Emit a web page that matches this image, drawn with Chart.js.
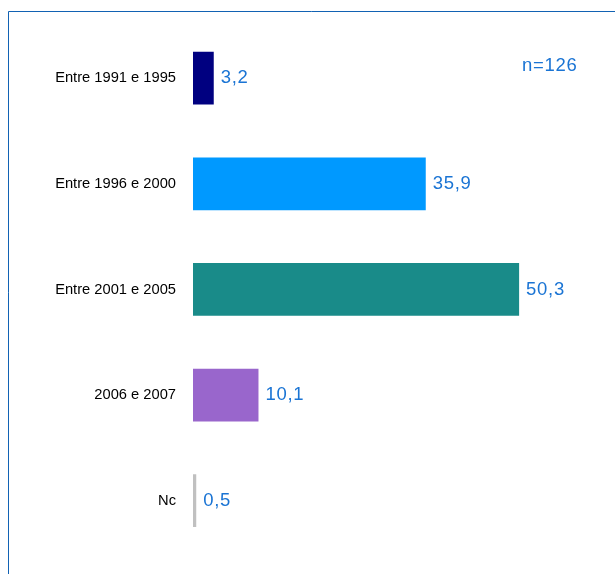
<!DOCTYPE html>
<html>
<head>
<meta charset="utf-8">
<script src="https://cdn.jsdelivr.net/npm/chart.js@4/dist/chart.umd.min.js"></script>
<style>
  html, body { margin: 0; padding: 0; background: #fff; overflow: hidden; }
  canvas { display: block; }
</style>
</head>
<body>
<canvas id="chart" width="615" height="574"></canvas>
<script>
// categories and values (percent)
const categories = ["Entre 1991 e 1995", "Entre 1996 e 2000", "Entre 2001 e 2005", "2006 e 2007", "Nc"];
const values = [3.2, 35.9, 50.3, 10.1, 0.5];
const barColors = ["#000080", "#0099ff", "#198b89", "#9966cc", "#c0c0c0"];
const sampleNote = "n=126";

// frame lines (left / top) like the source export
const framePlugin = {
  id: "frame",
  beforeDraw(chart) {
    const { ctx } = chart;
    ctx.save();
    ctx.strokeStyle = "#1262b3";
    ctx.lineWidth = 1;
    ctx.beginPath();
    ctx.moveTo(8.5, chart.height);
    ctx.lineTo(8.5, 11.5);
    ctx.lineTo(chart.width, 11.5);
    ctx.stroke();
    ctx.restore();
  },
};

// value labels at end of each bar + n note
const valueLabels = {
  id: "valueLabels",
  afterDatasetsDraw(chart) {
    const { ctx, chartArea } = chart;
    const meta = chart.getDatasetMeta(0);
    ctx.save();
    ctx.font = "18.5px 'Liberation Sans', Arial, sans-serif";
    ctx.letterSpacing = "0.7px";
    ctx.fillStyle = "#1a74d4";
    ctx.textBaseline = "middle";
    ctx.textAlign = "left";
    meta.data.forEach((bar, i) => {
      const txt = values[i].toFixed(1).replace(".", ",");
      ctx.fillText(txt, bar.x + 7, bar.y);
    });
    ctx.fillText(sampleNote, chartArea.right - 60, chartArea.top + 41);
    ctx.restore();
  },
};

new Chart(document.getElementById("chart"), {
  type: "bar",
  data: {
    labels: categories,
    datasets: [{
      data: values,
      backgroundColor: barColors,
      borderWidth: 0,
      barPercentage: 0.5,
      categoryPercentage: 1,
    }],
  },
  options: {
    indexAxis: "y",
    responsive: false,
    animation: false,
    layout: { padding: { top: 25.4, bottom: 20.5, left: 0, right: 33 } },
    scales: {
      x: { display: false, min: 0, max: 60 },
      y: {
        grid: { display: false, drawTicks: false },
        border: { display: false },
        ticks: {
          color: "#000",
          padding: 17,
          font: { family: "'Liberation Sans', Arial, sans-serif", size: 14.7 },
        },
        afterFit(scale) {
          scale.width = 193;
          // tick padding otherwise also pads the axis ends
          scale.paddingTop = 0;
          scale.paddingBottom = 0;
        },
      },
    },
    plugins: {
      legend: { display: false },
      tooltip: { enabled: false },
    },
  },
  plugins: [framePlugin, valueLabels],
});
</script>
</body>
</html>
